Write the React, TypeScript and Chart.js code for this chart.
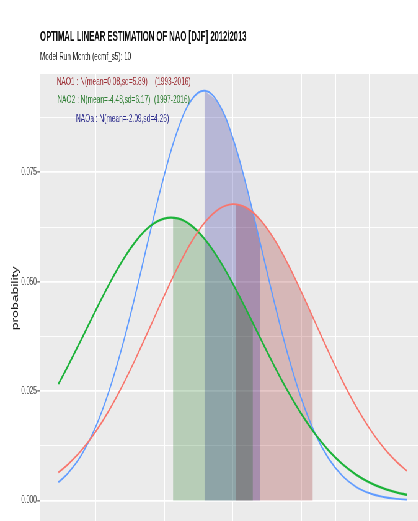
import React, { useEffect, useRef } from 'react';
import { Chart, registerables } from 'chart.js';

Chart.register(...registerables);

// ---------- data ----------
const titleText = 'OPTIMAL LINEAR ESTIMATION OF NAO [DJF] 2012/2013';
const subtitleText = 'Model Run Month (ecmf_s5): 10';
const seriesLabels = [
  'NAO1 : N(mean=0.08,sd=5.89)    (1993-2016)',
  'NAO2 : N(mean=-4.48,sd=6.17)  (1997-2016)',
  'NAOa : N(mean=-2.09,sd=4.26)',
];
const yAxisTitle = 'probability';

const xValues = [-12.7, -12, -11, -10, -9, -8, -7, -6, -5, -4, -3, -2, -1, 0, 1, 2, 3, 4, 5, 6, 7, 8, 9, 10, 11, 12, 12.7];
const nao1Density = [0.00643, 0.00827, 0.01154, 0.01566, 0.02064, 0.02643, 0.03289, 0.03976, 0.04669, 0.05329, 0.05908, 0.06364, 0.0666, 0.06773, 0.06691, 0.06423, 0.0599, 0.05428, 0.04778, 0.04087, 0.03397, 0.02743, 0.02152, 0.0164, 0.01215, 0.00874, 0.00682];
const nao2Density = [0.02662, 0.03077, 0.037, 0.04333, 0.04944, 0.05495, 0.05949, 0.06273, 0.06443, 0.06446, 0.06283, 0.05964, 0.05515, 0.04968, 0.04359, 0.03725, 0.03101, 0.02515, 0.01986, 0.01528, 0.01145, 0.00836, 0.00595, 0.00412, 0.00278, 0.00183, 0.00134];
const naoaDensity = [0.00421, 0.00626, 0.01051, 0.0167, 0.02513, 0.03577, 0.0482, 0.06146, 0.07416, 0.08469, 0.09154, 0.09363, 0.09063, 0.08303, 0.07199, 0.05907, 0.04587, 0.03371, 0.02344, 0.01543, 0.00961, 0.00567, 0.00316, 0.00167, 0.00083, 0.00039, 0.00023];

const nao1ShadeX = [0.23, 1, 2, 3, 4, 5, 5.85];
const nao1ShadeY = [0.06771, 0.06691, 0.06423, 0.0599, 0.05428, 0.04778, 0.04192];
const nao2ShadeX = [-4.34, -4, -3, -2, -1, 0, 1, 1.48];
const nao2ShadeY = [0.06464, 0.06446, 0.06283, 0.05964, 0.05515, 0.04968, 0.04359, 0.04055];
const naoaShadeX = [-2.05, -1, 0, 1, 2, 2.03];
const naoaShadeY = [0.09365, 0.09063, 0.08303, 0.07199, 0.05907, 0.05867];

const xMajorTicks = [-10, -5, 0, 5, 10];
const xMinorTicks = [-12.5, -7.5, -2.5, 2.5, 7.5, 12.5];
const yMajorTicks = [0, 0.025, 0.05, 0.075];
const yMajorLabels = ['0.000', '0.025', '0.050', '0.075'];
const yMinorTicks = [0.0125, 0.0375, 0.0625, 0.0875];

const X_MIN = -14.04;
const X_MAX = 14.0;
const Y_MIN = -0.005082;
const Y_MAX = 0.09747;

// ---------- layout ----------
const SX = 0.62; // horizontal squash of the whole picture
const W = 686;
const H = 524;
const FONT = "'Liberation Sans', Arial, sans-serif";

export default function App() {
  const ref = useRef<HTMLCanvasElement>(null);

  useEffect(() => {
    const canvas = ref.current;
    if (!canvas) return;
    Chart.defaults.font.family = FONT;
    const pts = (xs: number[], ys: number[]) => xs.map((x, i) => ({ x, y: ys[i] }));

    const bgPlugin = {
      id: 'panelBg',
      beforeDraw(chart: any) {
        const { ctx, chartArea: a } = chart;
        ctx.save();
        ctx.fillStyle = '#ebebeb';
        ctx.fillRect(a.left, a.top, a.right - a.left, a.bottom - a.top);
        ctx.restore();
      },
    };

    const textPlugin = {
      id: 'texts',
      afterDraw(chart: any) {
        const ctx = chart.ctx as CanvasRenderingContext2D;
        ctx.save();
        ctx.textAlign = 'left';
        ctx.textBaseline = 'alphabetic';
        // title
        ctx.fillStyle = '#0d0d0d';
        ctx.font = `bold 15.5px ${FONT}`;
        ctx.save();
        ctx.translate(40 / SX, 40.7);
        ctx.scale(0.8, 1);
        ctx.fillText(titleText, 0, 0);
        ctx.restore();
        // subtitle
        ctx.fillStyle = '#1a1a1a';
        ctx.font = `10.3px ${FONT}`;
        ctx.fillText(subtitleText, 40 / SX, 60);
        // series labels
        const colors = ['#9c2f35', '#2f7f34', '#2c2c8c'];
        const xs = [56.7 / SX, 57.3 / SX, 76 / SX];
        const ys = [85, 102.7, 121.5];
        ctx.font = `10.6px ${FONT}`;
        seriesLabels.forEach((t, i) => {
          ctx.fillStyle = colors[i];
          ctx.fillText(t, xs[i], ys[i]);
        });
        ctx.restore();
      },
    };

    const lineBase = { pointRadius: 0, fill: false, tension: 0.4, order: 0 };
    const shadeBase = { pointRadius: 0, borderWidth: 0, borderColor: 'rgba(0,0,0,0)', fill: 'origin', tension: 0.4, order: 1 };

    const chart = new Chart(canvas, {
      type: 'line',
      data: {
        datasets: [
          { ...lineBase, label: 'NAO1', data: pts(xValues, nao1Density), borderColor: '#F8766D', borderWidth: 1.9 },
          { ...lineBase, label: 'NAO2', data: pts(xValues, nao2Density), borderColor: '#1DB33A', borderWidth: 2.3 },
          { ...lineBase, label: 'NAOa', data: pts(xValues, naoaDensity), borderColor: '#619CFF', borderWidth: 1.9 },
          { ...shadeBase, label: 'NAO2 shade', data: pts(nao2ShadeX, nao2ShadeY), backgroundColor: 'rgba(0,100,0,0.22)' },
          { ...shadeBase, label: 'NAOa shade', data: pts(naoaShadeX, naoaShadeY), backgroundColor: 'rgba(0,0,139,0.22)' },
          { ...shadeBase, label: 'NAO1 shade', data: pts(nao1ShadeX, nao1ShadeY), backgroundColor: 'rgba(139,0,0,0.22)' },
        ] as any,
      },
      options: {
        animation: false,
        responsive: true,
        maintainAspectRatio: false,
        layout: { padding: { top: 74, left: 0, right: 0, bottom: 0 } },
        plugins: {
          legend: { display: false },
          tooltip: { enabled: false },
          title: { display: false },
        },
        scales: {
          x: {
            type: 'linear',
            min: X_MIN,
            max: X_MAX,
            afterBuildTicks: (s: any) => {
              s.ticks = [...xMinorTicks, ...xMajorTicks].sort((a, b) => a - b).map((v) => ({ value: v }));
            },
            afterFit: (s: any) => {
              s.height = 0;
              s.paddingLeft = 0;
              s.paddingRight = 0;
            },
            ticks: { display: false },
            grid: {
              color: '#ffffff',
              drawTicks: false,
              lineWidth: (c: any) => (c.tick && xMajorTicks.includes(c.tick.value) ? 2 : 1),
            },
            border: { display: false },
          },
          y: {
            type: 'linear',
            min: Y_MIN,
            max: Y_MAX,
            afterBuildTicks: (s: any) => {
              s.ticks = [...yMajorTicks, ...yMinorTicks].sort((a, b) => a - b).map((v) => ({ value: v }));
            },
            afterFit: (s: any) => {
              s.width = 40 / SX;
              s.paddingTop = 0;
              s.paddingBottom = 0;
            },
            ticks: {
              autoSkip: false,
              padding: 1,
              color: '#4d4d4d',
              font: { size: 10 },
              callback: (v: any) => {
                const i = yMajorTicks.indexOf(Number(v));
                return i >= 0 ? yMajorLabels[i] : '';
              },
            },
            grid: {
              color: '#ffffff',
              tickLength: 4.3,
              lineWidth: (c: any) => (c.tick && yMajorTicks.includes(c.tick.value) ? 1.8 : 0.9),
              tickColor: (c: any) => (c.tick && yMajorTicks.includes(c.tick.value) ? '#333333' : 'rgba(0,0,0,0)'),
              tickWidth: 1,
            },
            border: { display: false },
            title: {
              display: true,
              text: yAxisTitle,
              color: '#1a1a1a',
              font: { size: 14 },
              padding: { top: 17, bottom: 0 },
            },
          },
        },
      } as any,
      plugins: [bgPlugin, textPlugin],
    });
    return () => chart.destroy();
  }, []);

  return (
    <div
      style={{
        position: 'fixed',
        left: 0,
        top: 0,
        width: W,
        height: H,
        transform: `scaleX(${SX})`,
        transformOrigin: '0 0',
        background: '#ffffff',
      }}
    >
      <canvas ref={ref} />
    </div>
  );
}
